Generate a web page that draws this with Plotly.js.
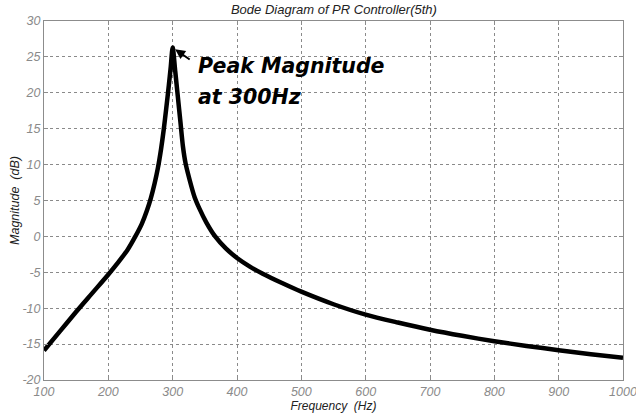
<!DOCTYPE html>
<html>
<head>
<meta charset="utf-8">
<script src="https://cdn.plot.ly/plotly-3.0.1.min.js"></script>
<style>html,body{margin:0;padding:0;background:#fff;}#chart{width:636px;height:414px;}</style>
</head>
<body>
<div id="chart"></div>
<script>
// Frequency (Hz) and magnitude (dB)
const freqHz = [100,125,150,175,200,215,230,242,252,260,266,272,277,282,286,290,294,297,300,304,308,312,316,320,326,334,342,352,366,383,400,420,440,470,500,550,600,650,700,750,800,850,900,950,1000];
const magDb  = [-15.9,-13.2,-10.5,-7.9,-5.3,-3.65,-1.85,0,1.75,3.6,5.3,7.4,9.5,12.2,14.8,17.8,21.0,23.6,26.3,23.0,19.5,16.0,12.5,10.2,8.0,5.5,3.8,2.0,0,-1.7,-3.0,-4.2,-5.2,-6.5,-7.7,-9.45,-10.9,-12.0,-13.0,-13.85,-14.6,-15.25,-15.85,-16.4,-16.9];
const xTicks = [100,200,300,400,500,600,700,800,900,1000];
const yTicks = [-20,-15,-10,-5,0,5,10,15,20,25,30];
const peakFreq = 300, peakMag = 26.3;

const tickFont = {family:'Liberation Sans Narrow, Liberation Sans, Arial, sans-serif', size:12.5, color:'#8a8a8a', style:'italic'};
const axisCommon = {
  showline:true, mirror:'ticks', linecolor:'#8c8c8c', linewidth:1,
  ticks:'inside', ticklen:4, tickcolor:'#8c8c8c',
  showgrid:true, gridcolor:'#8a8a8a', griddash:'3px,3px', gridwidth:1,
  zeroline:false, tickfont:tickFont, ticklabeloverflow:'allow'
};

const trace = {
  x: freqHz, y: magDb, type:'scatter', mode:'lines',
  line:{color:'#000', width:4.5, shape:'spline', smoothing:0.8},
  hoverinfo:'skip'
};

const annFont = {family:'DejaVu Sans, sans-serif', size:20.5, color:'#000', style:'italic'};

const layout = {
  width:636, height:414,
  margin:{l:44, r:13, t:21, b:34},
  paper_bgcolor:'#fff', plot_bgcolor:'#fff',
  showlegend:false,
  title:{text:'Bode Diagram of PR Controller(5th)', x:0.525, xanchor:'center', y:0.988, yanchor:'top',
    font:{family:'Liberation Sans, Arial, sans-serif', size:13, color:'#222', style:'italic'}},
  xaxis: Object.assign({}, axisCommon, {range:[100,1000], tickvals:xTicks, ticktext:xTicks.map(String),
    title:{text:'Frequency  (Hz)', standoff:2, font:{family:'Liberation Sans, Arial, sans-serif', size:12, color:'#222', style:'italic'}}}),
  yaxis: Object.assign({}, axisCommon, {range:[-20,30], tickvals:yTicks, ticktext:yTicks.map(String),
    title:{text:'Magnitude  (dB)', standoff:0, font:{family:'Liberation Sans, Arial, sans-serif', size:12.5, color:'#222', style:'italic'}}}),
  annotations:[
    {x:peakFreq, y:peakMag, xref:'x', yref:'y', text:' ', showarrow:true, arrowhead:2, arrowsize:1, arrowwidth:2,
     arrowcolor:'#000', ax:20, ay:14, standoff:3},
    {x:337, y:23.8, xref:'x', yref:'y', text:'<b>Peak Magnitude</b>', showarrow:false, xanchor:'left', yanchor:'middle', font:annFont},
    {x:337, y:19.35, xref:'x', yref:'y', text:'<b>at 300Hz</b>', showarrow:false, xanchor:'left', yanchor:'middle', font:annFont}
  ]
};

Plotly.newPlot('chart', [trace], layout, {displayModeBar:false, staticPlot:true});
</script>
</body>
</html>
